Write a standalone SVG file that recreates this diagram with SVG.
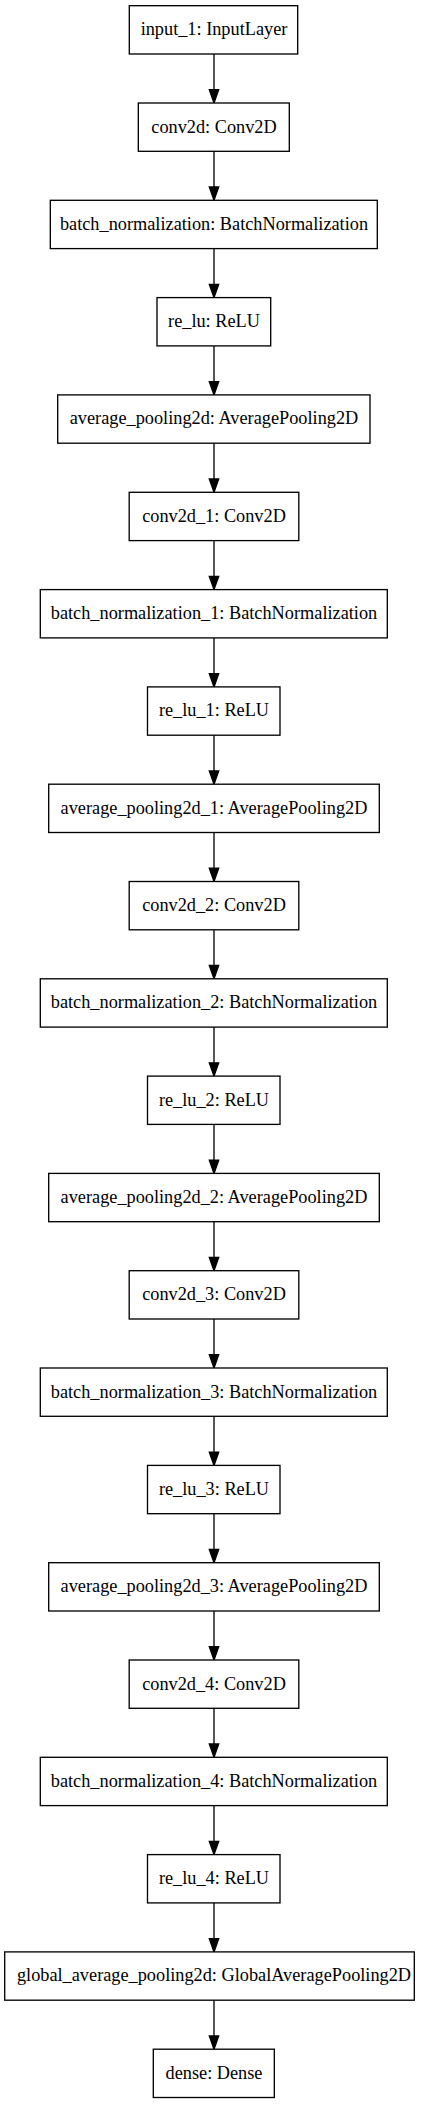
<svg xmlns="http://www.w3.org/2000/svg" width="428" height="2104" viewBox="0 0 428 2104">
<style>
.n rect{fill:#fff;stroke:#000;stroke-width:1.33}
.n text{font-family:"Liberation Serif","Times New Roman",serif;font-size:18.3px;text-anchor:middle;fill:#000}
.e line{stroke:#000;stroke-width:1.33}
.e polygon{fill:#000;stroke:#000;stroke-width:1.33}
</style>
<rect width="428" height="2104" fill="#fff"/>
<g id="connectors" class="e">
<line x1="214" y1="54" x2="214" y2="89.7"/><polygon points="209.3,89.7 218.7,89.7 214,103"/>
<line x1="214" y1="151.3" x2="214" y2="187"/><polygon points="209.3,187 218.7,187 214,200.3"/>
<line x1="214" y1="248.6" x2="214" y2="284.3"/><polygon points="209.3,284.3 218.7,284.3 214,297.6"/>
<line x1="214" y1="345.9" x2="214" y2="381.6"/><polygon points="209.3,381.6 218.7,381.6 214,394.9"/>
<line x1="214" y1="443.2" x2="214" y2="479"/><polygon points="209.3,479 218.7,479 214,492.3"/>
<line x1="214" y1="540.6" x2="214" y2="576.3"/><polygon points="209.3,576.3 218.7,576.3 214,589.6"/>
<line x1="214" y1="637.9" x2="214" y2="673.6"/><polygon points="209.3,673.6 218.7,673.6 214,686.9"/>
<line x1="214" y1="735.2" x2="214" y2="770.9"/><polygon points="209.3,770.9 218.7,770.9 214,784.2"/>
<line x1="214" y1="832.5" x2="214" y2="868.2"/><polygon points="209.3,868.2 218.7,868.2 214,881.5"/>
<line x1="214" y1="929.8" x2="214" y2="965.5"/><polygon points="209.3,965.5 218.7,965.5 214,978.8"/>
<line x1="214" y1="1027.1" x2="214" y2="1062.8"/><polygon points="209.3,1062.8 218.7,1062.8 214,1076.1"/>
<line x1="214" y1="1124.4" x2="214" y2="1160.1"/><polygon points="209.3,1160.1 218.7,1160.1 214,1173.4"/>
<line x1="214" y1="1221.7" x2="214" y2="1257.4"/><polygon points="209.3,1257.4 218.7,1257.4 214,1270.7"/>
<line x1="214" y1="1319" x2="214" y2="1354.7"/><polygon points="209.3,1354.7 218.7,1354.7 214,1368"/>
<line x1="214" y1="1416.3" x2="214" y2="1452.1"/><polygon points="209.3,1452.1 218.7,1452.1 214,1465.4"/>
<line x1="214" y1="1513.7" x2="214" y2="1549.4"/><polygon points="209.3,1549.4 218.7,1549.4 214,1562.7"/>
<line x1="214" y1="1611" x2="214" y2="1646.7"/><polygon points="209.3,1646.7 218.7,1646.7 214,1660"/>
<line x1="214" y1="1708.3" x2="214" y2="1744"/><polygon points="209.3,1744 218.7,1744 214,1757.3"/>
<line x1="214" y1="1805.6" x2="214" y2="1841.3"/><polygon points="209.3,1841.3 218.7,1841.3 214,1854.6"/>
<line x1="214" y1="1902.9" x2="214" y2="1938.6"/><polygon points="209.3,1938.6 218.7,1938.6 214,1951.9"/>
<line x1="214" y1="2000.2" x2="214" y2="2035.9"/><polygon points="209.3,2035.9 218.7,2035.9 214,2049.2"/>
</g>
<g id="input_1" class="n"><rect x="129.3" y="5.7" width="168.4" height="48.3"/><text x="214" y="35.2">input_1: InputLayer</text></g>
<g id="conv2d" class="n"><rect x="138.3" y="103" width="151" height="48.3"/><text x="214" y="132.5">conv2d: Conv2D</text></g>
<g id="batch_normalization" class="n"><rect x="50.3" y="200.3" width="327" height="48.3"/><text x="214" y="229.8">batch_normalization: BatchNormalization</text></g>
<g id="re_lu" class="n"><rect x="157" y="297.6" width="113.7" height="48.3"/><text x="214" y="327.1">re_lu: ReLU</text></g>
<g id="average_pooling2d" class="n"><rect x="57.7" y="394.9" width="312.3" height="48.3"/><text x="214" y="424.4">average_pooling2d: AveragePooling2D</text></g>
<g id="conv2d_1" class="n"><rect x="129.2" y="492.3" width="169.6" height="48.3"/><text x="214" y="521.8">conv2d_1: Conv2D</text></g>
<g id="batch_normalization_1" class="n"><rect x="40.3" y="589.6" width="347" height="48.3"/><text x="214" y="619.1">batch_normalization_1: BatchNormalization</text></g>
<g id="re_lu_1" class="n"><rect x="147.5" y="686.9" width="132.5" height="48.3"/><text x="214" y="716.4">re_lu_1: ReLU</text></g>
<g id="average_pooling2d_1" class="n"><rect x="48.7" y="784.2" width="330.6" height="48.3"/><text x="214" y="813.7">average_pooling2d_1: AveragePooling2D</text></g>
<g id="conv2d_2" class="n"><rect x="129.2" y="881.5" width="169.6" height="48.3"/><text x="214" y="911">conv2d_2: Conv2D</text></g>
<g id="batch_normalization_2" class="n"><rect x="40.3" y="978.8" width="347" height="48.3"/><text x="214" y="1008.3">batch_normalization_2: BatchNormalization</text></g>
<g id="re_lu_2" class="n"><rect x="147.5" y="1076.1" width="132.5" height="48.3"/><text x="214" y="1105.6">re_lu_2: ReLU</text></g>
<g id="average_pooling2d_2" class="n"><rect x="48.7" y="1173.4" width="330.6" height="48.3"/><text x="214" y="1202.9">average_pooling2d_2: AveragePooling2D</text></g>
<g id="conv2d_3" class="n"><rect x="129.2" y="1270.7" width="169.6" height="48.3"/><text x="214" y="1300.2">conv2d_3: Conv2D</text></g>
<g id="batch_normalization_3" class="n"><rect x="40.3" y="1368" width="347" height="48.3"/><text x="214" y="1397.5">batch_normalization_3: BatchNormalization</text></g>
<g id="re_lu_3" class="n"><rect x="147.5" y="1465.4" width="132.5" height="48.3"/><text x="214" y="1494.9">re_lu_3: ReLU</text></g>
<g id="average_pooling2d_3" class="n"><rect x="48.7" y="1562.7" width="330.6" height="48.3"/><text x="214" y="1592.2">average_pooling2d_3: AveragePooling2D</text></g>
<g id="conv2d_4" class="n"><rect x="129.2" y="1660" width="169.6" height="48.3"/><text x="214" y="1689.5">conv2d_4: Conv2D</text></g>
<g id="batch_normalization_4" class="n"><rect x="40.3" y="1757.3" width="347" height="48.3"/><text x="214" y="1786.8">batch_normalization_4: BatchNormalization</text></g>
<g id="re_lu_4" class="n"><rect x="147.5" y="1854.6" width="132.5" height="48.3"/><text x="214" y="1884.1">re_lu_4: ReLU</text></g>
<g id="global_average_pooling2d" class="n"><rect x="4.7" y="1951.9" width="409.6" height="48.3"/><text x="214" y="1981.4">global_average_pooling2d: GlobalAveragePooling2D</text></g>
<g id="dense" class="n"><rect x="153.3" y="2049.2" width="121" height="48.3"/><text x="214" y="2078.7">dense: Dense</text></g>
</svg>
